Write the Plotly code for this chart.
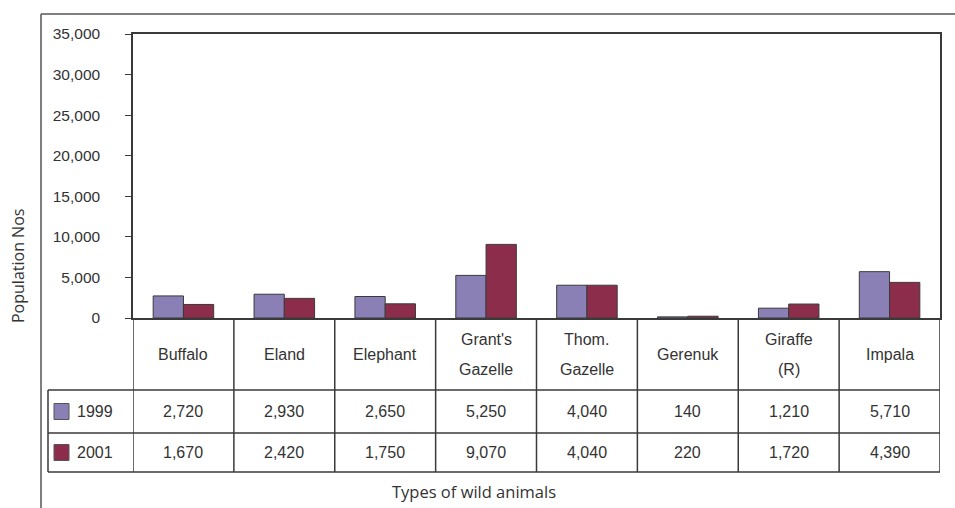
import plotly.graph_objects as go

# Wild animal population counts by species
categories = ["Buffalo", "Eland", "Elephant", "Grant's Gazelle", "Thom. Gazelle",
              "Gerenuk", "Giraffe (R)", "Impala"]
category_lines = [["Buffalo"], ["Eland"], ["Elephant"], ["Grant's", "Gazelle"],
                  ["Thom.", "Gazelle"], ["Gerenuk"], ["Giraffe", "(R)"], ["Impala"]]
years = ["1999", "2001"]
pop_1999 = [2720, 2930, 2650, 5250, 4040, 140, 1210, 5710]
pop_2001 = [1670, 2420, 1750, 9070, 4040, 220, 1720, 4390]
y_ticks = [0, 5000, 10000, 15000, 20000, 25000, 30000, 35000]

W, H = 955, 508
COL_1999 = "#8a80b6"
COL_2001 = "#8c2e4b"
EDGE = "#3a3a3a"
TXT = "#333333"
FONT = "Liberation Sans, Arial, sans-serif"
TITLE_FONT = "Open Sans, sans-serif"


def px(x):
    return x / W


def py(y):
    return 1 - y / H


# plot frame in pixel coordinates
PL, PR, PT, PB = 133, 940, 34, 318
ROW1, ROW2, ROWEND = 390, 433, 472
TABLE_L = 48

fig = go.Figure()
for name, vals, col in [(years[0], pop_1999, COL_1999), (years[1], pop_2001, COL_2001)]:
    fig.add_trace(go.Bar(
        x=categories, y=vals, name=name,
        marker=dict(color=col, line=dict(color=EDGE, width=1)),
        showlegend=False,
    ))

shapes = []
annotations = []


def hline(x0, x1, y, xref="paper", width=1.5, color=EDGE):
    shapes.append(dict(type="line", xref=xref, yref="paper", x0=x0, x1=x1,
                       y0=py(y), y1=py(y), line=dict(color=color, width=width)))


def vline(x, y0, y1, xref="paper", width=1.5, color=EDGE):
    shapes.append(dict(type="line", xref=xref, yref="paper", x0=x, x1=x,
                       y0=py(y0), y1=py(y1), line=dict(color=color, width=width)))


# outer chart border
hline(px(41), 1.0, 14, color="#555555")
vline(px(41), 14, H, color="#555555")

# data table grid
for i in range(len(categories) + 1):
    vline(i - 0.5, PB, ROWEND, xref="x")
vline(px(TABLE_L), ROW1, ROWEND)
for y in (ROW1, ROW2, ROWEND):
    hline(px(TABLE_L), px(PR), y)

# category labels in the header row
for i, lines in enumerate(category_lines):
    if len(lines) == 1:
        ys = [(PB + ROW1) / 2]
    else:
        ys = [339, 369]
    for text, y in zip(lines, ys):
        annotations.append(dict(x=i, y=py(y), xref="x", yref="paper", text=text,
                                showarrow=False, font=dict(family=FONT, size=16, color=TXT),
                                xanchor="center", yanchor="middle"))

# value rows with legend keys
for vals, col, name, (r0, r1) in [(pop_1999, COL_1999, years[0], (ROW1, ROW2)),
                                  (pop_2001, COL_2001, years[1], (ROW2, ROWEND))]:
    yc = (r0 + r1) / 2
    for i, v in enumerate(vals):
        annotations.append(dict(x=i, y=py(yc), xref="x", yref="paper", text=f"{v:,}",
                                showarrow=False, font=dict(family=FONT, size=16, color=TXT),
                                xanchor="center", yanchor="middle"))
    shapes.append(dict(type="rect", xref="paper", yref="paper",
                       x0=px(54), x1=px(69), y0=py(yc + 8), y1=py(yc - 8),
                       fillcolor=col, line=dict(color="#555555", width=1)))
    annotations.append(dict(x=px(75), y=py(yc), xref="paper", yref="paper", text=name,
                            showarrow=False, font=dict(family=FONT, size=16, color=TXT),
                            xanchor="left", yanchor="middle"))

# axis titles
annotations.append(dict(x=px(18), y=py(266), xref="paper", yref="paper",
                        text="Population Nos", textangle=-90, showarrow=False,
                        font=dict(family=TITLE_FONT, size=16, color=TXT),
                        xanchor="center", yanchor="middle"))
annotations.append(dict(x=px(474), y=py(491), xref="paper", yref="paper",
                        text="Types of wild animals", showarrow=False,
                        font=dict(family=TITLE_FONT, size=16.5, color=TXT),
                        xanchor="center", yanchor="middle"))

fig.update_layout(
    width=W, height=H,
    margin=dict(l=0, r=0, t=0, b=0, pad=0, autoexpand=False),
    paper_bgcolor="white", plot_bgcolor="white",
    barmode="group", bargap=0.4, bargroupgap=0,
    xaxis=dict(domain=[px(PL), px(PR)], range=[-0.5, len(categories) - 0.5],
               showticklabels=False, ticks="", showline=True, linecolor=EDGE,
               linewidth=1.5, mirror=True, showgrid=False, zeroline=False,
               automargin=False, fixedrange=True),
    yaxis=dict(domain=[py(PB), py(PT)], range=[0, 35000], tickvals=y_ticks,
               tickformat=",d", ticks="outside", ticklen=6, tickcolor=EDGE,
               ticklabelstandoff=22, automargin=False,
               tickfont=dict(family=FONT, size=15.5, color=TXT),
               showline=True, linecolor=EDGE, linewidth=1.5, mirror=True,
               showgrid=False, zeroline=False),
    shapes=shapes,
    annotations=annotations,
)

fig.write_html("out.html")
